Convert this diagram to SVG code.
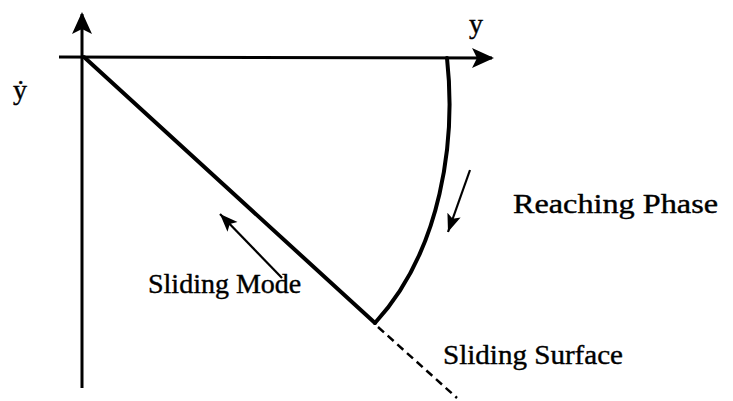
<svg xmlns="http://www.w3.org/2000/svg" width="733" height="401" viewBox="0 0 733 401">
<defs>
<style>
.lbl{font-family:"Liberation Serif","Times New Roman",serif;fill:#000;stroke:#000;stroke-width:0.4;font-size:28px}
.ax{stroke:#000;stroke-width:3;fill:none}
.thick{stroke:#000;stroke-width:4;fill:none;stroke-linecap:round;stroke-linejoin:round}
.thin{stroke:#000;stroke-width:2.2;fill:none}
</style>
<marker id="big" markerUnits="userSpaceOnUse" markerWidth="24" markerHeight="24" refX="20" refY="10" orient="auto" viewBox="0 0 24 20">
<path d="M0,0 L22,10 L0,20 L5,10 Z" fill="#000"/>
</marker>
<marker id="small" markerUnits="userSpaceOnUse" markerWidth="20" markerHeight="16" refX="18" refY="7" orient="auto" viewBox="0 0 20 14">
<path d="M0,0 L18,7 L0,14 L4,7 Z" fill="#000"/>
</marker>
</defs>
<rect width="733" height="401" fill="#fff"/>
<g id="axes">
<line class="ax" x1="82" y1="388" x2="82" y2="14" marker-end="url(#big)"/>
<line class="ax" x1="59" y1="57" x2="492" y2="58" marker-end="url(#big)"/>
</g>
<g id="connectors">
<path class="thick" d="M84,57 L375,323"/>
<path class="thick" d="M447,58 C456,140 442,250 375,323"/>
<line x1="378" y1="327" x2="457" y2="398" stroke="#000" stroke-width="2.5" stroke-dasharray="8,5"/>
<line class="thin" x1="470" y1="170" x2="448" y2="232" marker-end="url(#small)"/>
<line class="thin" x1="282" y1="278" x2="220" y2="214" marker-end="url(#small)"/>
</g>
<g id="label-y"><text class="lbl" x="469" y="33">y</text></g>
<g id="label-ydot"><text class="lbl" x="13" y="99">ẏ</text></g>
<g id="label-reaching"><text class="lbl" x="513" y="213" textLength="205" lengthAdjust="spacingAndGlyphs">Reaching Phase</text></g>
<g id="label-mode"><text class="lbl" x="148" y="293">Sliding Mode</text></g>
<g id="label-surface"><text class="lbl" x="443" y="364" textLength="180" lengthAdjust="spacingAndGlyphs">Sliding Surface</text></g>
</svg>
